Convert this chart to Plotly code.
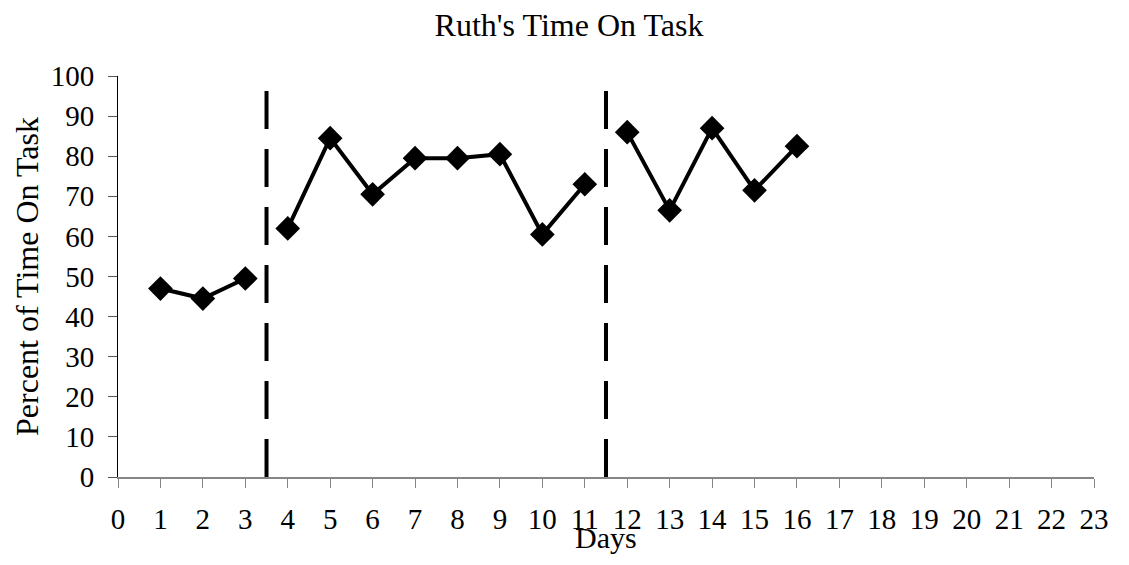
import plotly.graph_objects as go

days = list(range(1, 17))
pct_on_task = [47, 44.5, 49.5, 62, 84.5, 70.5, 79.5, 79.5, 80.5, 60.5, 73, 86, 66.5, 87, 71.5, 82.5]
phase_changes = [3.5, 11.5]
x_ticks = list(range(0, 24))
y_ticks = list(range(0, 101, 10))

FONT = "Liberation Serif, Times New Roman, serif"

# page body has an 8px margin, so the figure is 16px smaller than the window
W, H = 1113, 549
L, R, T, B = 110, 22, 68, 80

fig = go.Figure()

# phase change lines
for xc in phase_changes:
    fig.add_trace(
        go.Scatter(
            x=[xc, xc], y=[0, 97.5], mode="lines",
            line=dict(color="black", width=4, dash="38px,20px"),
            hoverinfo="skip", showlegend=False,
        )
    )

# one segment per phase so the line breaks at phase changes
phases = [(0, 3), (3, 11), (11, 16)]
for a, b in phases:
    fig.add_trace(
        go.Scatter(
            x=days[a:b], y=pct_on_task[a:b], mode="lines+markers",
            line=dict(color="black", width=4),
            marker=dict(symbol="diamond", size=19, color="black"),
            showlegend=False,
        )
    )

fig.update_layout(
    width=W, height=H,
    margin=dict(l=L, r=R, t=T, b=B),
    plot_bgcolor="white", paper_bgcolor="white",
    font=dict(family=FONT, color="black", size=29),
    title=dict(
        text="Ruth's Time On Task", x=561 / W, xref="container", xanchor="center",
        y=1 - 17 / H, yref="container", yanchor="middle",
        font=dict(family=FONT, size=32, color="black"),
    ),
    annotations=[
        dict(text="Percent of Time On Task", textangle=-90,
             x=(18 - L) / (W - L - R), xref="paper",
             y=0.5, yref="paper", showarrow=False, xanchor="center", yanchor="middle",
             font=dict(family=FONT, size=32)),
        dict(text="Days", x=0.5, xref="paper", y=-B / (H - T - B) + 0.002, yref="paper",
             showarrow=False, xanchor="center", yanchor="bottom",
             font=dict(family=FONT, size=30)),
    ],
)

fig.update_xaxes(
    range=[0, 23], tickvals=x_ticks, ticktext=[str(t) for t in x_ticks],
    showgrid=False, zeroline=False, showline=True, linecolor="#868686", linewidth=2,
    ticks="outside", ticklen=9, tickcolor="#868686", tickwidth=1,
    ticklabelstandoff=6, tickfont=dict(size=29),
)
fig.update_yaxes(
    range=[0, 100], tickvals=y_ticks,
    showgrid=False, zeroline=False, showline=True, linecolor="black", linewidth=1,
    ticks="outside", ticklen=9, tickcolor="#555555", tickwidth=1,
    ticklabelstandoff=8, tickfont=dict(size=29),
)

fig.write_html("out.html")
